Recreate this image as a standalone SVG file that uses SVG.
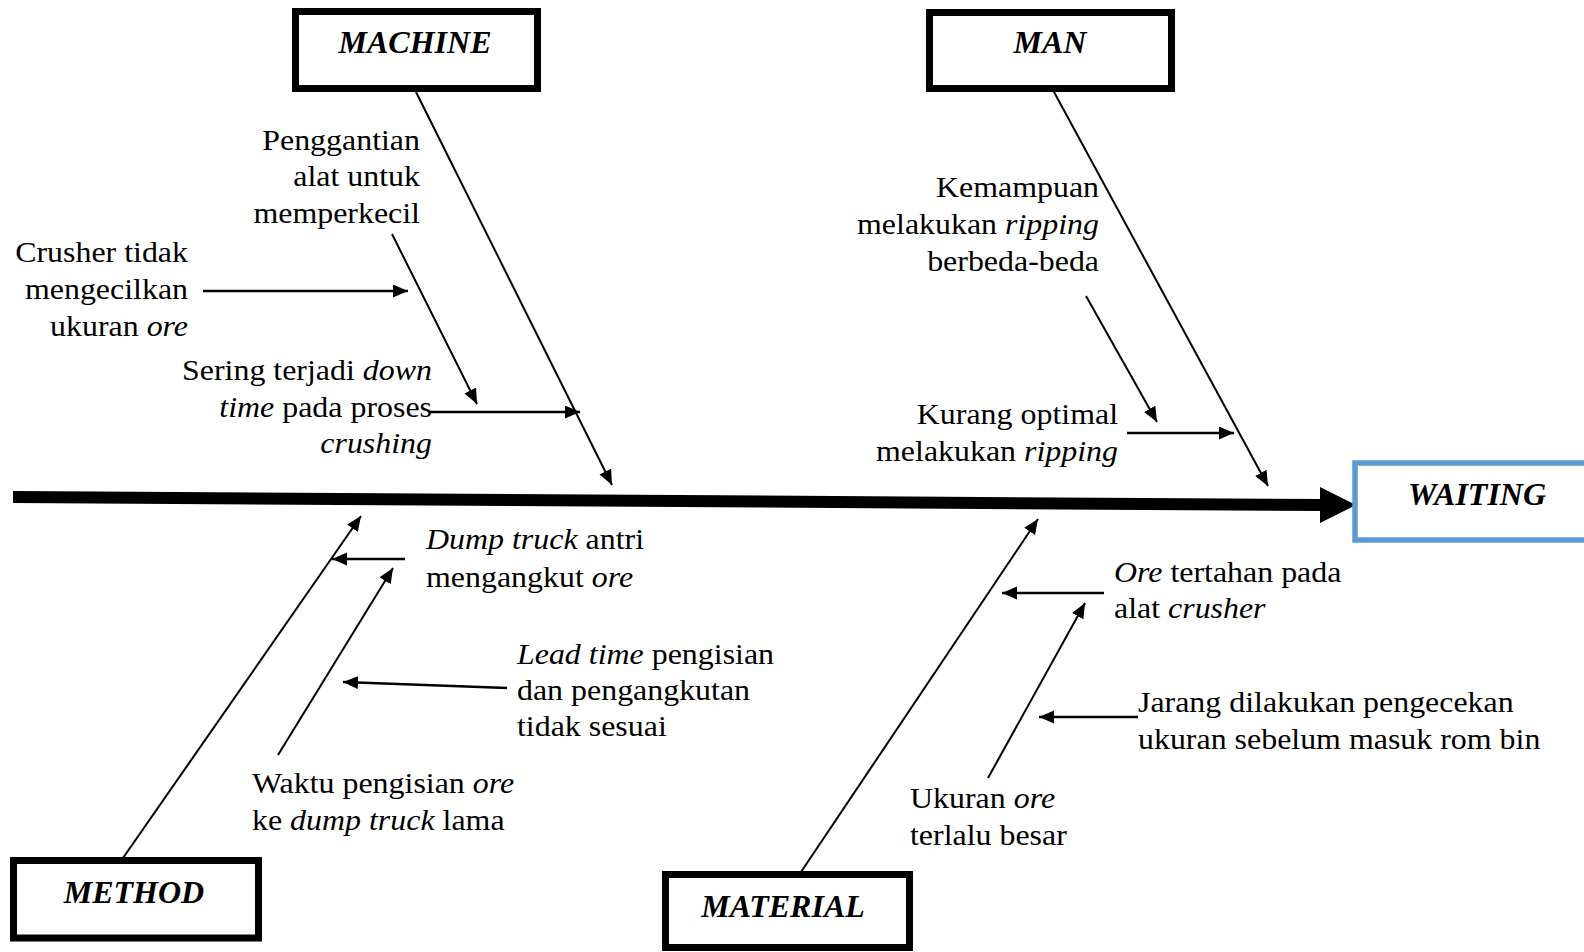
<svg xmlns="http://www.w3.org/2000/svg" width="1584" height="952" viewBox="0 0 1584 952">
  <style>
    .box { fill: #ffffff; stroke: #000000; stroke-width: 7; }
    .effect { fill: #ffffff; stroke: #5B9BD5; stroke-width: 5.5; }
    .head { font-family: "Liberation Serif", "Times New Roman", serif; font-size: 32px; font-weight: bold; font-style: italic; fill: #000; text-anchor: middle; }
    .lbl { font-family: "Liberation Serif", "Times New Roman", serif; font-size: 28.5px; fill: #000; }
    .end { text-anchor: end; }
    .i { font-style: italic; }
    .bone { stroke: #000; stroke-width: 2; fill: none; marker-end: url(#arr); }
    .sub { stroke: #000; stroke-width: 2.4; fill: none; marker-end: url(#arr); }
  </style>
  <defs>
    <marker id="arr" markerUnits="userSpaceOnUse" markerWidth="16" markerHeight="14" refX="15" refY="6.5" orient="auto">
      <path d="M0,0 L15,6.5 L0,13 z" fill="#000"/>
    </marker>
  </defs>

  <rect width="1584" height="952" fill="#ffffff"/>

  <!-- spine -->
  <g id="spine">
    <line x1="13" y1="497" x2="1322" y2="505" stroke="#000" stroke-width="12"/>
    <polygon points="1320,487 1356,505 1320,523" fill="#000"/>
  </g>

  <!-- category and effect boxes -->
  <g id="machine">
    <rect class="box" x="295.5" y="11.5" width="242" height="77"/>
    <text class="head" x="415" y="53">MACHINE</text>
  </g>
  <g id="man">
    <rect class="box" x="929.5" y="12.5" width="242" height="76"/>
    <text class="head" x="1050" y="53">MAN</text>
  </g>
  <g id="method">
    <rect class="box" x="13.5" y="860.5" width="245" height="77.5"/>
    <text class="head" x="134" y="903">METHOD</text>
  </g>
  <g id="material">
    <rect class="box" x="665.5" y="874.5" width="244" height="73"/>
    <text class="head" x="783" y="917">MATERIAL</text>
  </g>
  <g id="waiting">
    <rect class="effect" x="1355" y="463" width="260" height="77"/>
    <text class="head" x="1477" y="505">WAITING</text>
  </g>

  <!-- connectors -->
  <g id="connectors">
    <line class="bone" x1="416" y1="92" x2="612" y2="485"/>
    <line class="bone" x1="1054" y1="92" x2="1268" y2="486"/>
    <line class="bone" x1="123" y1="858" x2="361" y2="516"/>
    <line class="bone" x1="801" y1="872" x2="1038" y2="519"/>

    <line class="bone" x1="392" y1="234" x2="477" y2="404"/>
    <line class="sub" x1="203" y1="291" x2="408" y2="291"/>
    <line class="sub" x1="430" y1="412" x2="580" y2="412"/>

    <line class="bone" x1="1086" y1="296" x2="1157" y2="422"/>
    <line class="sub" x1="1127" y1="433" x2="1234" y2="433"/>

    <line class="sub" x1="405" y1="559" x2="332" y2="559"/>
    <line class="bone" x1="278" y1="755" x2="393" y2="568"/>
    <line class="sub" x1="507" y1="688" x2="343" y2="682"/>

    <line class="sub" x1="1104" y1="593" x2="1002" y2="593"/>
    <line class="bone" x1="988" y1="778" x2="1085" y2="603"/>
    <line class="sub" x1="1138" y1="717" x2="1039" y2="717"/>
  </g>

  <!-- cause labels -->
  <g id="cause-penggantian">
    <text class="lbl end" transform="translate(420 149.5) scale(1.12 1)"><tspan x="0" y="0">Penggantian</tspan><tspan x="0" y="37">alat untuk</tspan><tspan x="0" y="73.5">memperkecil</tspan></text>
  </g>
  <g id="cause-crusher">
    <text class="lbl end" transform="translate(188 262) scale(1.12 1)"><tspan x="0" y="0">Crusher tidak</tspan><tspan x="0" y="37">mengecilkan</tspan><tspan x="0" y="74">ukuran <tspan class="i">ore</tspan></tspan></text>
  </g>
  <g id="cause-downtime">
    <text class="lbl end" transform="translate(432 380) scale(1.12 1)"><tspan x="0" y="0">Sering terjadi <tspan class="i">down</tspan></tspan><tspan x="0" y="37"><tspan class="i">time</tspan> pada proses</tspan><tspan x="0" y="73"><tspan class="i">crushing</tspan></tspan></text>
  </g>
  <g id="cause-kemampuan">
    <text class="lbl end" transform="translate(1099 197) scale(1.12 1)"><tspan x="0" y="0">Kemampuan</tspan><tspan x="0" y="37">melakukan <tspan class="i">ripping</tspan></tspan><tspan x="0" y="74">berbeda-beda</tspan></text>
  </g>
  <g id="cause-kurang">
    <text class="lbl end" transform="translate(1118 424) scale(1.12 1)"><tspan x="0" y="0">Kurang optimal</tspan><tspan x="0" y="37">melakukan <tspan class="i">ripping</tspan></tspan></text>
  </g>
  <g id="cause-dumptruck">
    <text class="lbl" transform="translate(426 549) scale(1.12 1)"><tspan x="0" y="0"><tspan class="i">Dump truck</tspan> antri</tspan><tspan x="0" y="38">mengangkut <tspan class="i">ore</tspan></tspan></text>
  </g>
  <g id="cause-leadtime">
    <text class="lbl" transform="translate(517 664) scale(1.12 1)"><tspan x="0" y="0"><tspan class="i">Lead time</tspan> pengisian</tspan><tspan x="0" y="36">dan pengangkutan</tspan><tspan x="0" y="72">tidak sesuai</tspan></text>
  </g>
  <g id="cause-waktu">
    <text class="lbl" transform="translate(252 793) scale(1.12 1)"><tspan x="0" y="0">Waktu pengisian <tspan class="i">ore</tspan></tspan><tspan x="0" y="37">ke <tspan class="i">dump truck</tspan> lama</tspan></text>
  </g>
  <g id="cause-oretertahan">
    <text class="lbl" transform="translate(1114 582) scale(1.12 1)"><tspan x="0" y="0"><tspan class="i">Ore</tspan> tertahan pada</tspan><tspan x="0" y="36">alat <tspan class="i">crusher</tspan></tspan></text>
  </g>
  <g id="cause-jarang">
    <text class="lbl" transform="translate(1138 712) scale(1.12 1)"><tspan x="0" y="0">Jarang dilakukan pengecekan</tspan><tspan x="0" y="37">ukuran sebelum masuk rom bin</tspan></text>
  </g>
  <g id="cause-ukuran">
    <text class="lbl" transform="translate(910 808) scale(1.12 1)"><tspan x="0" y="0">Ukuran <tspan class="i">ore</tspan></tspan><tspan x="0" y="37">terlalu besar</tspan></text>
  </g>
</svg>
